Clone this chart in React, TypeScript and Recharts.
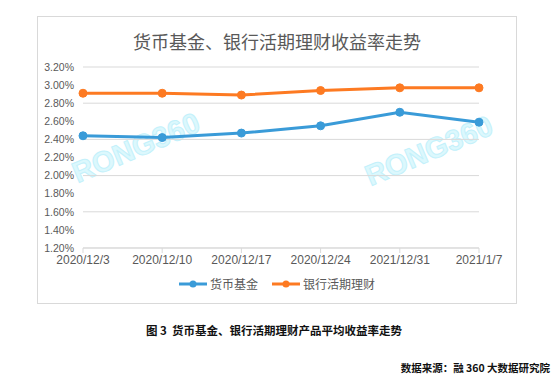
import React from 'react';
import { LineChart, Line, XAxis, YAxis, CartesianGrid } from 'recharts';

const categories = ['2020/12/3', '2020/12/10', '2020/12/17', '2020/12/24', '2021/12/31', '2021/1/7'];
const moneyFund = [2.44, 2.42, 2.47, 2.55, 2.70, 2.59];
const bankDemand = [2.91, 2.91, 2.89, 2.94, 2.97, 2.97];
const yTicks = [1.2, 1.4, 1.6, 1.8, 2.0, 2.2, 2.4, 2.6, 2.8, 3.0, 3.2];
const seriesNames = ['货币基金', '银行活期理财'];
const title = '货币基金、银行活期理财收益率走势';
const caption = '图 3  货币基金、银行活期理财产品平均收益率走势';
const source = '数据来源：融 360 大数据研究院';
const watermark = 'RONG360';

const data = categories.map((c, i) => ({ date: c, a: moneyFund[i], b: bankDemand[i] }));

const BLUE = '#3a9bd8';
const ORANGE = '#fd7a22';
const CJK = '"Noto Sans CJK SC", "Liberation Sans", sans-serif';
const LAT = '"Liberation Sans", Arial, sans-serif';

const Mark = ({ left, top }: { left: number; top: number }) => (
  <div
    style={{
      position: 'absolute',
      left,
      top,
      transform: 'translate(-50%, -50%) rotate(-23deg)',
      fontFamily: LAT,
      fontWeight: 700,
      fontSize: 29,
      color: '#dcf8fd',
      WebkitTextStroke: '1px #c4f1fb',
      whiteSpace: 'nowrap',
      pointerEvents: 'none',
    }}
  >
    {watermark}
  </div>
);

const LegendItem = ({ color, label }: { color: string; label: string }) => (
  <div style={{ display: 'flex', alignItems: 'center', marginRight: 14 }}>
    <svg width={28} height={10} style={{ marginRight: 3 }}>
      <line x1={0} y1={5} x2={28} y2={5} stroke={color} strokeWidth={3} />
      <circle cx={14} cy={5} r={3.5} fill={color} />
    </svg>
    <span style={{ fontFamily: CJK, fontSize: 12, color: '#595959' }}>{label}</span>
  </div>
);

export default function App() {
  return (
    <div style={{ position: 'fixed', left: 0, top: 0, width: 559, height: 381, background: '#fff', overflow: 'hidden' }}>
      <div
        style={{
          position: 'absolute',
          left: 37,
          top: 16,
          width: 478,
          height: 286,
          border: '1px solid #d9d9d9',
          background: '#fff',
        }}
      >
        <Mark left={98} top={131} />
        <Mark left={391} top={134} />
        <div
          style={{
            position: 'absolute',
            left: 0,
            top: 12,
            width: 478,
            textAlign: 'center',
            fontFamily: CJK,
            fontSize: 18,
            color: '#595959',
            lineHeight: '24px',
          }}
        >
          {title}
        </div>
        <div style={{ position: 'absolute', left: 0, top: 0 }}>
          <LineChart
            width={478}
            height={286}
            data={data}
            margin={{ top: 50, right: 37, bottom: 0, left: 0 }}
          >
            <CartesianGrid vertical={false} stroke="#d9d9d9" strokeWidth={1} />
            <XAxis
              dataKey="date"
              height={55}
              axisLine={{ stroke: '#d9d9d9' }}
              tickLine={{ stroke: '#d9d9d9' }}
              tickSize={5}
              tickMargin={2}
              interval={0}
              tick={{ fontFamily: LAT, fontSize: 12, fill: '#595959' }}
            />
            <YAxis
              width={45}
              domain={[1.2, 3.2]}
              ticks={yTicks}
              axisLine={false}
              tickLine={false}
              tickSize={0}
              tickMargin={9}
              tickFormatter={(v: number) => v.toFixed(2) + '%'}
              tick={{ fontFamily: LAT, fontSize: 10.5, fill: '#595959' }}
            />
            <Line
              type="linear"
              dataKey="a"
              name={seriesNames[0]}
              stroke={BLUE}
              strokeWidth={3}
              dot={{ r: 4, fill: BLUE, stroke: BLUE, strokeWidth: 1 }}
              isAnimationActive={false}
            />
            <Line
              type="linear"
              dataKey="b"
              name={seriesNames[1]}
              stroke={ORANGE}
              strokeWidth={3}
              dot={{ r: 4, fill: ORANGE, stroke: ORANGE, strokeWidth: 1 }}
              isAnimationActive={false}
            />
          </LineChart>
        </div>
        <div
          style={{
            position: 'absolute',
            left: 0,
            top: 258,
            width: 478,
            display: 'flex',
            justifyContent: 'center',
            paddingLeft: 14,
            boxSizing: 'border-box',
          }}
        >
          <LegendItem color={BLUE} label={seriesNames[0]} />
          <LegendItem color={ORANGE} label={seriesNames[1]} />
        </div>
      </div>
      <div
        style={{
          position: 'absolute',
          left: 146,
          top: 321,
          fontFamily: CJK,
          fontSize: 11.5,
          fontWeight: 700,
          color: '#111',
          whiteSpace: 'pre',
          lineHeight: '18px',
        }}
      >
        {caption}
      </div>
      <div
        style={{
          position: 'absolute',
          right: 9,
          top: 360,
          fontFamily: CJK,
          fontSize: 10.5,
          fontWeight: 700,
          color: '#111',
          whiteSpace: 'pre',
          lineHeight: '16px',
        }}
      >
        {source}
      </div>
    </div>
  );
}
